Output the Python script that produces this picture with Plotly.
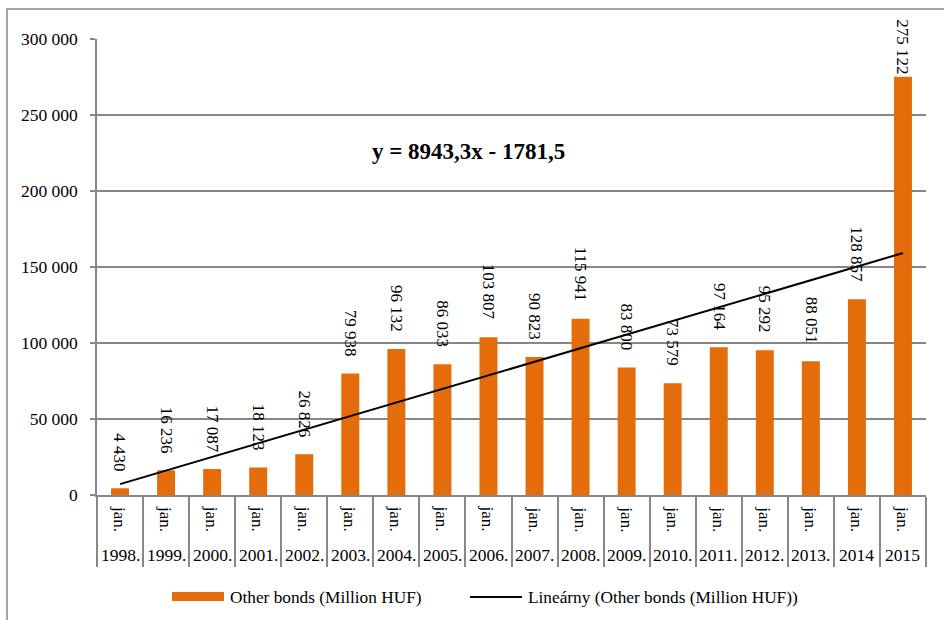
import plotly.graph_objects as go

# ---- data ----
years = ["1998.", "1999.", "2000.", "2001.", "2002.", "2003.", "2004.", "2005.", "2006.",
         "2007.", "2008.", "2009.", "2010.", "2011.", "2012.", "2013.", "2014", "2015"]
month = "jan."
bonds = [4430, 16236, 17087, 18123, 26826, 79938, 96132, 86033, 103807,
         90823, 115941, 83800, 73579, 97164, 95292, 88051, 128857, 275122]
trend_slope = 8943.3
trend_intercept = -1781.5
y_ticks = [0, 50000, 100000, 150000, 200000, 250000, 300000]

# ---- layout constants (pixels) ----
W, H = 944, 620
ML, MR, MT, MB = 97, 18, 39, 125
PW, PH = W - ML - MR, H - MT - MB
FONT = "Liberation Serif"
ORANGE = "#E46C0A"
GRAY = "#878787"


def px_x(x):
    return (x - ML) / PW


def px_y(y):
    return (H - MB - y) / PH


idx = list(range(1, len(bonds) + 1))

fig = go.Figure()
fig.add_trace(go.Bar(x=idx, y=bonds, marker=dict(color=ORANGE, line=dict(width=0)),
                     width=0.39, name="Other bonds (Million HUF)", showlegend=False))

trend_x = [idx[0], idx[-1]]
trend_y = [trend_slope * x + trend_intercept for x in trend_x]
fig.add_trace(go.Scatter(x=trend_x, y=trend_y, mode="lines",
                         line=dict(color="black", width=2),
                         name="Lineárny (Other bonds (Million HUF))", showlegend=False))

annotations = []
# value labels above bars (the tallest one is pulled down to fit the chart)
shifts = [15] * (len(bonds) - 1) + [0]
for x, v, s in zip(idx, bonds, shifts):
    annotations.append(dict(x=x, y=v, xref="x", yref="y", text=f"{v:,}".replace(",", " "),
                            textangle=90, showarrow=False, yanchor="bottom", yshift=s,
                            font=dict(family=FONT, size=17, color="black")))
# two-level category labels
for x, yr in zip(idx, years):
    annotations.append(dict(x=x, y=0, xref="x", yref="paper", text=month, textangle=90,
                            showarrow=False, yanchor="top", yshift=-9,
                            font=dict(family=FONT, size=17, color="black")))
    annotations.append(dict(x=x, y=0, xref="x", yref="paper", text=yr,
                            showarrow=False, yanchor="middle", yshift=-60,
                            font=dict(family=FONT, size=17.5, color="black")))
# trendline equation
annotations.append(dict(x=px_x(468), y=px_y(151), xref="paper", yref="paper",
                        text="<b>y = 8943,3x - 1781,5</b>", showarrow=False,
                        xanchor="center", yanchor="middle",
                        font=dict(family=FONT, size=23, color="black")))
# legend texts
annotations.append(dict(x=px_x(228), y=px_y(597), xref="paper", yref="paper",
                        text="Other bonds (Million HUF)", showarrow=False,
                        xanchor="left", yanchor="middle",
                        font=dict(family=FONT, size=17.3, color="black")))
annotations.append(dict(x=px_x(526), y=px_y(597), xref="paper", yref="paper",
                        text="Lineárny (Other bonds (Million HUF))", showarrow=False,
                        xanchor="left", yanchor="middle",
                        font=dict(family=FONT, size=17.3, color="black")))

shapes = [
    # chart area border
    dict(type="rect", xref="paper", yref="paper", x0=px_x(7), x1=px_x(960),
         y0=px_y(640), y1=px_y(9), line=dict(color=GRAY, width=1.5), layer="below"),
    # legend keys
    dict(type="rect", xref="paper", yref="paper", x0=px_x(172), x1=px_x(224),
         y0=px_y(601), y1=px_y(592), fillcolor=ORANGE, line=dict(width=0)),
    dict(type="line", xref="paper", yref="paper", x0=px_x(470), x1=px_x(522),
         y0=px_y(597), y1=px_y(597), line=dict(color="black", width=2)),
]

fig.update_layout(
    width=W, height=H,
    margin=dict(l=ML, r=MR, t=MT, b=MB, autoexpand=False),
    paper_bgcolor="white", plot_bgcolor="white",
    separators=", ",
    font=dict(family=FONT, size=17, color="black"),
    annotations=annotations, shapes=shapes,
    showlegend=False,
    xaxis=dict(range=[0.5, len(bonds) + 0.5], tickvals=[i + 0.5 for i in range(len(bonds) + 1)],
               showticklabels=False, ticks="outside", ticklen=70, tickwidth=1.5, tickcolor=GRAY,
               showline=True, linecolor=GRAY, linewidth=1.5, showgrid=False, zeroline=False,
               fixedrange=True),
    yaxis=dict(range=[0, 300000], tickvals=y_ticks, tickformat=",.0f",
               showgrid=True, gridcolor=GRAY, gridwidth=1.5,
               showline=True, linecolor=GRAY, linewidth=1.5,
               ticks="outside", ticklen=5, tickwidth=1.5, tickcolor=GRAY,
               ticklabelstandoff=9, zeroline=False,
               tickfont=dict(family=FONT, size=17.5, color="black"), fixedrange=True),
)

fig.write_html("out.html")
